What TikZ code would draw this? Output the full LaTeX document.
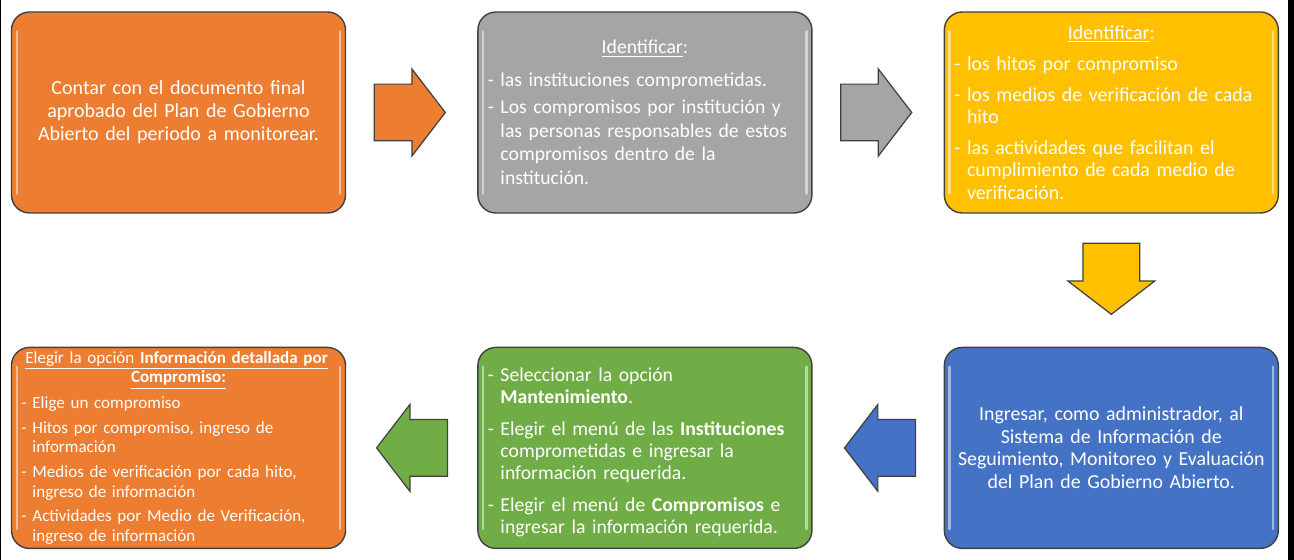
\documentclass[tikz,border=0pt]{standalone}
\usepackage{fontspec}
\setmainfont{Carlito}
\usetikzlibrary{calc,positioning,shapes.arrows}

\definecolor{naranja}{HTML}{ED7D31}
\definecolor{gris}{HTML}{A5A5A5}
\definecolor{amarillo}{HTML}{FFC000}
\definecolor{azul}{HTML}{4472C4}
\definecolor{verde}{HTML}{70AD47}

\newlength{\dashw}
\newcommand{\itm}[2][4.8pt]{\par\vspace{#1}\settowidth{\dashw}{-\ }\hangindent=\dashw\hangafter=1\noindent-\ #2\par}
\newcommand{\titulo}[1]{{\centering #1\par}}

\tikzset{
  caja/.style={draw=black!75, line width=0.8pt, rounded corners=0.36cm, fill=#1, text=white,
    minimum width=6.68cm, minimum height=4.02cm, text width=6.28cm, inner xsep=0.2cm, inner ysep=0pt, align=left},
  flecha/.style={single arrow, draw=black!75, line width=0.7pt, fill=#1, minimum height=1.42cm,
    minimum width=1.74cm, single arrow head extend=0.3cm, single arrow tip angle=105,
    inner xsep=0pt, inner ysep=0.55cm, anchor=tail},
  brillo/.style={white, opacity=0.5, line width=1.3pt, line cap=round}
}

\begin{document}
\begin{tikzpicture}
				%%%%% START %%%%%
				\useasboundingbox (0, 0) rectangle (25.88, 11.2);
				\fill[black] (25.76, 0) rectangle (25.88, 11.2);
				\fill[black] (0, 0) rectangle (0.03, 11.2);
				
				\node[caja=naranja, align=center, font=\fontsize{11.4}{13}\selectfont] (b1) at (3.57, 8.95)
				{Contar con el documento final\\aprobado del Plan de Gobierno\\Abierto del periodo a monitorear.};
				
				\node[caja=gris, font=\fontsize{11.2}{13.6}\selectfont, right=2.62cm of b1] (b2)
				{\titulo{\underline{Identificar}:}
				 \itm[5pt]{las instituciones comprometidas.}
				 \itm[1.7pt]{Los compromisos por institución y\newline las personas responsables de estos\newline compromisos dentro de la\newline institución.}};
				
				\node[caja=amarillo, font=\fontsize{11.3}{12.8}\selectfont, right=2.62cm of b2] (b3)
				{\titulo{\underline{Identificar}:}
				 \itm{los hitos por compromiso}
				 \itm{los medios de verificación de cada\newline hito}
				 \itm{las actividades que facilitan el\newline cumplimiento de cada medio de\newline verificación.}};
				
				\node[caja=azul, align=center, font=\fontsize{11.3}{12.8}\selectfont, below=2.66cm of b3] (b4)
				{Ingresar, como administrador, al\\Sistema de Información de\\Seguimiento, Monitoreo y Evaluación\\del Plan de Gobierno Abierto.};
				
				\node[caja=verde, font=\fontsize{11.2}{12.5}\selectfont, left=2.62cm of b4] (b5)
				{\itm[0pt]{Seleccionar la opción\newline\textbf{Mantenimiento}.}
				 \itm[5.7pt]{Elegir el menú de las \textbf{Instituciones}\newline comprometidas e ingresar la\newline información requerida.}
				 \itm[5.7pt]{Elegir el menú de \textbf{Compromisos} e\newline ingresar la información requerida.}};
				
				\node[caja=naranja, font=\fontsize{9.7}{11.1}\selectfont, left=2.62cm of b5] (b6)
				{\titulo{\underline{Elegir la opción \textbf{Información detallada por}}\newline\underline{\textbf{Compromiso:}}}
				 \itm[3.5pt]{Elige un compromiso}
				 \itm[3pt]{Hitos por compromiso, ingreso de\newline información}
				 \itm[3pt]{Medios de verificación por cada hito,\newline ingreso de información}
				 \itm[3pt]{Actividades por Medio de Verificación,\newline ingreso de información}};
				
				\foreach \n in {b1, b2, b3, b4, b5, b6} {
					\draw[brillo] ([xshift=0.12cm, yshift=-0.4cm]\n.north west) -- ([xshift=0.12cm, yshift=0.4cm]\n.south west);
					\draw[brillo] ([xshift=-0.12cm, yshift=-0.4cm]\n.north east) -- ([xshift=-0.12cm, yshift=0.4cm]\n.south east);
				}
				
				\node[flecha=naranja] (f1) at ([xshift=0.55cm]b1.east) {};
				\node[flecha=gris] (f2) at ([xshift=0.55cm]b2.east) {};
				\node[flecha=amarillo, shape border rotate=270, inner xsep=0.55cm, inner ysep=0pt] (f3) at ([yshift=-0.58cm]b3.south) {};
				\node[flecha=azul, shape border rotate=180] (f4) at ([xshift=-0.55cm]b4.west) {};
				\node[flecha=verde, shape border rotate=180] (f5) at ([xshift=-0.58cm]b5.west) {};
				%%%%% END %%%%%
\end{tikzpicture}
\end{document}
